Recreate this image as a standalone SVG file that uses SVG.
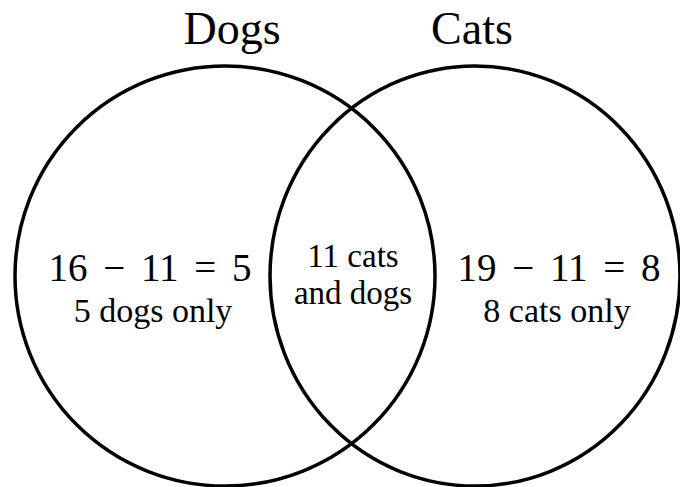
<svg xmlns="http://www.w3.org/2000/svg" width="680" height="487" viewBox="0 0 680 487">
<style>
.set{fill:none;stroke:#000;stroke-width:3.5}
.t{fill:#000;text-anchor:middle}
.title{font-size:46px}
.eq{font-size:39px;word-spacing:6px}
.lbl{font-size:33px}
.only{font-size:34px}
</style>
<rect width="680" height="487" fill="#fff"/>
<g id="connectors"></g>
<g font-family="Liberation Serif, Times New Roman, DejaVu Serif, serif">
<g id="dogs">
<ellipse class="set" cx="225" cy="276" rx="210" ry="210"/>
<text class="t title" x="232" y="44">Dogs</text>
</g>
<g id="cats">
<ellipse class="set" cx="475" cy="276" rx="205" ry="210"/>
<text class="t title" x="472" y="44" font-size="44">Cats</text>
</g>
<g id="dogs-only">
<text class="t eq" x="150" y="281">16 − 11 = 5</text>
<text class="t only" x="153" y="322">5 dogs only</text>
</g>
<g id="both">
<text class="t lbl" x="353" y="267">11 cats</text>
<text class="t lbl" x="353" y="304">and dogs</text>
</g>
<g id="cats-only">
<text class="t eq" x="559" y="281">19 − 11 = 8</text>
<text class="t only" x="557" y="322">8 cats only</text>
</g>
</g>
</svg>
